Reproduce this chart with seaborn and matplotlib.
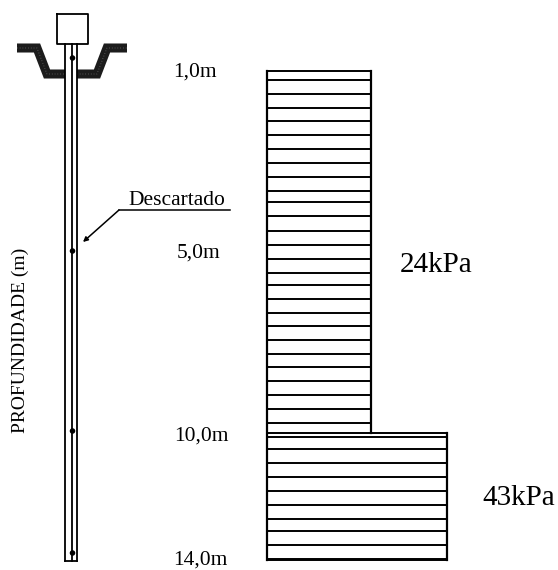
import pandas as pd
import seaborn as sns
import matplotlib.pyplot as plt

layer_lines_24 = [70.7, 80.3, 94, 108.3, 120.7, 134.7, 148.7, 162.7, 176.7, 190.7, 202.3, 216.3,
                  230.7, 244.7, 258.7, 272.7, 284.7, 298.7, 312.5, 326.3, 340.3, 354.3, 366.7,
                  380.7, 394.7, 408.7, 422.5]
layer_lines_43 = [432.5, 436.7, 448.7, 462.7, 476.7, 490.7, 504.7, 518.7, 530.7, 544.7, 558.7, 560.3]
profile_left = 267
profile_right_24 = 371
profile_right_43 = 447

pole_x = [65, 71.5, 77]
pole_top = 44
pole_bottom = 561
box_x = [57, 88, 88, 57, 57]
box_y = [14, 14, 44, 44, 14]
ground_left_x = [17, 37, 47, 65]
ground_right_x = [77, 97, 107, 127]
ground_left_y = [48, 48, 74, 74]
ground_right_y = [74, 74, 48, 48]
sensor_y = [58, 251, 431, 553]
leader_x = [230, 119]
leader_y = [210, 210]

depth_labels = ['1,0m', '5,0m', '10,0m', '14,0m']
depth_label_x = [173, 177, 174, 173]
depth_label_y = [77, 258, 441, 565]
strength_labels = ['24kPa', '43kPa']
strength_x = [400, 482]
strength_y = [272, 505]

plt.rcParams['font.family'] = ['Liberation Serif', 'DejaVu Serif']
fig = plt.figure(figsize=(5.58, 5.70), dpi=100)
ax = fig.add_axes([0, 0, 1, 1])


def draw(x, y, lw=1.4, color='black', **kw):
    df = pd.DataFrame({'x': x, 'y': y})
    sns.lineplot(data=df, x='x', y='y', sort=False, estimator=None, color=color, lw=lw, ax=ax, **kw)


# layered profile
for y in layer_lines_24:
    draw([profile_left, profile_right_24], [y, y])
for y in layer_lines_43:
    draw([profile_left, profile_right_43], [y, y])
draw([profile_left, profile_left], [layer_lines_24[0], layer_lines_43[-1]], lw=1.6)
draw([profile_right_24, profile_right_24], [layer_lines_24[0], layer_lines_43[0]], lw=1.6)
draw([profile_right_43, profile_right_43], [layer_lines_43[0], layer_lines_43[-1]], lw=1.6)

# ground, speckled with a fine light dotted line
for gx, gy in [(ground_left_x, ground_left_y), (ground_right_x, ground_right_y)]:
    draw(gx, gy, lw=6.5, color='#1c1c1c', solid_capstyle='butt', solid_joinstyle='miter')
    draw(gx, gy, lw=0.5, color='#8a8a8a', linestyle=(0, (1, 3)))

# pole
for x in pole_x:
    draw([x, x], [pole_top, pole_bottom], lw=1.3)
draw([pole_x[0], pole_x[-1]], [pole_bottom, pole_bottom], lw=1.3)
draw(box_x, box_y, lw=1.3)
sns.scatterplot(x=[pole_x[1] + 1] * len(sensor_y), y=sensor_y, marker='o', s=16, color='black',
                edgecolor='none', ax=ax)

# leader
draw(leader_x, leader_y, lw=1.1)
ax.annotate('', xy=(83, 242), xytext=(leader_x[1], leader_y[1]),
            arrowprops=dict(arrowstyle='-|>', color='black', lw=1.1, mutation_scale=7, shrinkA=0, shrinkB=0))
ax.text(128, 205, 'Descartado', fontsize=15.5, ha='left', va='baseline')

for s, x, y in zip(depth_labels, depth_label_x, depth_label_y):
    ax.text(x, y, s, fontsize=15.5, ha='left', va='baseline')
for s, x, y in zip(strength_labels, strength_x, strength_y):
    ax.text(x, y, s, fontsize=21, ha='left', va='baseline')
ax.text(20, 340, 'PROFUNDIDADE (m)', fontsize=14, rotation=90, ha='center', va='center')

ax.set_xlim(0, 558)
ax.set_ylim(570, 0)
ax.axis('off')
plt.savefig('out.png', dpi=100)
